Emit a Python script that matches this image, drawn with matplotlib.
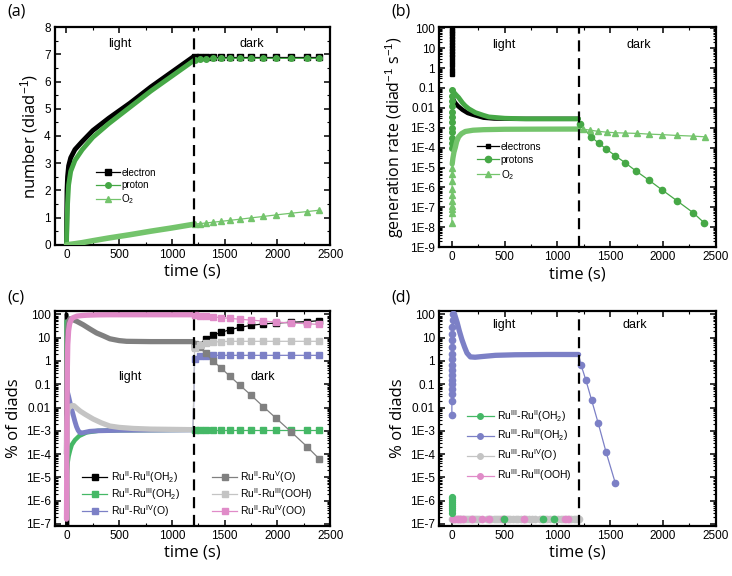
import numpy as np
import matplotlib
matplotlib.use('Agg')
import matplotlib.pyplot as plt
from matplotlib.lines import Line2D
from matplotlib.ticker import MultipleLocator, LogLocator, FixedLocator, FuncFormatter, NullFormatter

plt.rcParams['font.family'] = ['Liberation Sans', 'DejaVu Sans']
plt.rcParams['mathtext.fontset'] = 'custom'
plt.rcParams['mathtext.rm'] = 'Liberation Sans'
plt.rcParams['mathtext.it'] = 'Liberation Sans:italic'
plt.rcParams['mathtext.bf'] = 'Liberation Sans:bold'

# ---------------- data ----------------
t_switch = 1205
t_dark = [1215, 1265, 1320, 1390, 1465, 1550, 1645, 1750, 1865, 1990, 2130, 2280, 2395]

# (a) cumulative numbers
a_t_light = [0, 2, 5, 10, 20, 40, 80, 150, 250, 400, 600, 800, 1000, 1200]
a_el_light = [0, 1.0, 2.0, 2.5, 2.9, 3.2, 3.5, 3.8, 4.2, 4.65, 5.2, 5.8, 6.35, 6.9]
a_pr_light = [0, 0.4, 0.8, 1.5, 2.2, 2.7, 3.1, 3.5, 3.95, 4.45, 5.05, 5.65, 6.2, 6.75]
a_o2_light = [0, 0, 0, 0.005, 0.01, 0.02, 0.04, 0.08, 0.15, 0.25, 0.37, 0.5, 0.62, 0.75]
a_el_dark = [6.9, 6.9, 6.9, 6.9, 6.9, 6.9, 6.9, 6.9, 6.9, 6.9, 6.9, 6.9, 6.9]
a_pr_dark = [6.8, 6.83, 6.84, 6.85, 6.85, 6.85, 6.85, 6.85, 6.85, 6.85, 6.85, 6.85, 6.85]
a_o2_dark = [0.76, 0.78, 0.8, 0.83, 0.86, 0.9, 0.94, 0.99, 1.04, 1.1, 1.16, 1.22, 1.27]

# (b) generation rates
b_el_spike_t = [0, 0.2, 0.4, 0.6, 0.8, 1, 1.3, 1.6, 2, 2.5, 3, 3.5, 4, 4.5, 5]
b_el_spike = [100, 75, 55, 40, 28, 20, 14, 10, 7, 5, 3.5, 2.3, 1.4, 0.8, 0.5]
b_el_t = [5, 15, 30, 60, 100, 150, 200, 300, 400, 600, 1200]
b_el = [0.04, 0.025, 0.018, 0.012, 8e-3, 5.5e-3, 4.5e-3, 3.2e-3, 2.9e-3, 2.8e-3, 2.8e-3]
b_pr_spike_t = [0, 0.3, 0.6, 1, 1.3, 1.6, 2, 2.5, 3, 3.5, 4, 5]
b_pr_spike = [1e-4, 1.8e-4, 3e-4, 6e-4, 1e-3, 2e-3, 3.5e-3, 6e-3, 0.012, 0.022, 0.04, 0.08]
b_pr_t = [5, 20, 40, 64, 100, 127, 160, 222, 300, 350, 500, 700, 1200]
b_pr = [0.08, 0.06, 0.045, 0.033, 0.018, 0.0126, 9e-3, 5.8e-3, 4.2e-3, 3.5e-3, 3e-3, 2.8e-3, 2.8e-3]
b_pr_dark_t = [1215, 1317, 1390, 1460, 1545, 1643, 1745, 1862, 1989, 2128, 2284, 2392]
b_pr_dark = [1.6e-3, 3.5e-4, 1.7e-4, 8.6e-5, 4e-5, 1.7e-5, 6.6e-6, 2.4e-6, 7.6e-7, 2.2e-7, 5.4e-8, 1.6e-8]
b_o2_spike_t = [0, 0.3, 0.6, 1, 1.3, 1.6, 2, 2.3, 2.6, 3]
b_o2_spike = [1.6e-8, 5e-8, 8e-8, 1.2e-7, 2e-7, 4e-7, 8e-7, 2e-6, 5e-6, 1e-5]
b_o2_t = [3, 10, 20, 32, 45, 64, 90, 127, 200, 300, 500, 800, 1200]
b_o2 = [1.5e-5, 3e-5, 6e-5, 1e-4, 2e-4, 3.5e-4, 5e-4, 6.5e-4, 7.5e-4, 8e-4, 8.4e-4, 8.5e-4, 8.6e-4]
b_o2_dark_t = [1237, 1307, 1386, 1466, 1548, 1643, 1751, 1862, 1992, 2131, 2284, 2395]
b_o2_dark = [8.6e-4, 7.6e-4, 6.6e-4, 6e-4, 5.6e-4, 5.4e-4, 5.2e-4, 4.8e-4, 4.5e-4, 4.1e-4, 3.8e-4, 3.5e-4]

# (c) RuII-Ru species (% of diads)
c_k_t = [0, 1, 2, 3, 5, 8]
c_k = [100, 80, 30, 3, 0.01, 1e-8]
c_k_dark = [4.0, 5.1, 8.9, 12.7, 17, 22, 28, 34, 39, 43, 46, 49, 54]
c_g_t = [0, 2, 5, 10, 20, 35, 50, 80, 120, 190, 300, 500, 1200]
c_g = [50, 1e-5, 2e-5, 4e-5, 8e-5, 1.5e-4, 2.5e-4, 4e-4, 6e-4, 8.5e-4, 1e-3, 1.05e-3, 1.1e-3]
c_g_dark = [1.1e-3] * 13
c_b_t = [0, 10, 20, 35, 50, 65, 80, 95, 110, 125, 140, 170, 220, 300, 500, 1200]
c_b = [0.06, 0.045, 0.03, 0.015, 8e-3, 4.5e-3, 2.5e-3, 1.5e-3, 1.05e-3, 8.5e-4, 8e-4,
       8.5e-4, 9.5e-4, 1e-3, 1.05e-3, 1.1e-3]
c_b_dark = [1.2, 1.6, 1.7, 1.75, 1.75, 1.75, 1.75, 1.75, 1.75, 1.75, 1.75, 1.75, 1.75]
c_d_t = [0, 2, 5, 10, 20, 32, 60, 100, 158, 220, 285, 350, 411, 500, 570, 800, 1200]
c_d = [1e-4, 1e-2, 1, 20, 50, 65, 60, 50, 36, 24, 16, 12, 9, 7.5, 7, 6.8, 6.8]
c_d_dark = [5.5, 3.8, 2.1, 1.0, 0.5, 0.22, 0.09, 0.034, 0.011, 3.4e-3, 9e-4, 2.1e-4, 6.3e-5]
c_l_t = [0, 3, 8, 15, 30, 50, 70, 95, 130, 180, 253, 330, 411, 500, 633, 800, 1000, 1200]
c_l = [1e-4, 1e-3, 4e-3, 8e-3, 0.011, 0.012, 0.012, 0.0095, 7e-3, 5e-3, 3.2e-3, 2.2e-3,
       1.6e-3, 1.4e-3, 1.26e-3, 1.18e-3, 1.15e-3, 1.12e-3]
c_l_dark = [3.5, 5.0, 6.0, 6.5, 6.8, 7.0, 7.0, 7.0, 7.0, 7.0, 7.0, 7.0, 7.0]
c_p_t = [0, 1, 2, 3, 4, 6, 8, 12, 20, 30, 45, 60, 100, 150, 200, 300, 400, 1200]
c_p = [1.6e-7, 1e-6, 1e-5, 1e-4, 1e-3, 0.03, 0.5, 5, 20, 40, 60, 72, 85, 90, 93, 96, 97, 97]
c_p_dark = [92, 88, 82, 78, 73, 68, 62, 57, 52, 47, 43, 40, 37]

# (d) RuIII-Ru species (% of diads)
d_floor = 1.6e-7
d_b_spike_t = [0, 0, 0, 0, 0, 0, 0, 0, 1, 1, 1, 2, 2, 3, 4, 6, 10]
d_b_spike = [5e-3, 0.02, 0.037, 0.06, 0.1, 0.15, 0.25, 0.4, 0.7, 1.2, 2, 4, 8, 15, 30, 60, 100]
d_b_t = [10, 20, 32, 50, 70, 95, 120, 143, 175, 220, 285, 413, 600, 900, 1200]
d_b = [100, 95, 82, 45, 20, 8.3, 4, 2.2, 1.5, 1.45, 1.55, 1.75, 1.85, 1.9, 1.9]
d_b_dark_t = [1222, 1269, 1323, 1386, 1459, 1548]
d_b_dark = [0.7, 0.15, 0.021, 2.1e-3, 1.26e-4, 5.6e-6]
d_g_spike_t = [0, 0, 0, 0, 0, 0, 0, 0, 0]
d_g_spike = [1.5e-6, 1.3e-6, 1.1e-6, 9e-7, 7.5e-7, 6e-7, 4.8e-7, 3.8e-7, 3e-7]
d_g_floor_t = [490, 860, 965]
d_l_floor_t = [0, 15, 30, 45, 60, 75, 90, 105, 120, 140, 160, 180, 200, 220, 240, 260, np.nan,
               335, 355, 375, 395, 415, 435, 455, 475, 495, 515, 535, 555, 580, 605, 630, 655,
               680, 705, 730, 755, 790, np.nan, 830, 855, 880, 905, 930, 955, 980, 1005, 1030,
               1055, 1080, 1105, 1130, 1155, 1180, 1205]
d_p_floor_t = [10, 30, 55, 75, 110, 190, 290, 350, 480, 680, 1070, 1100]

# ---------------- styling ----------------
A_GREEN = '#46a846'
A_LIGHT = '#74c46c'
C_GREEN = '#45b866'
C_BLUE = '#7c80c6'
C_GRAY = '#808080'
C_LGRAY = '#c4c4c4'
C_PINK = '#e08bc8'
LABEL_FONT = ['Open Sans', 'DejaVu Sans']

LOG_NAMES = {2: '100', 1: '10', 0: '1', -1: '0.1', -2: '0.01'}


def log_label(v, pos):
    e = int(round(np.log10(v)))
    return LOG_NAMES.get(e, f'1E{e}')


def style(ax, log_lo=None):
    for s in ax.spines.values():
        s.set_linewidth(1.6)
    ax.xaxis.set_major_locator(MultipleLocator(500))
    ax.xaxis.set_minor_locator(MultipleLocator(250))
    if log_lo is not None:
        ax.set_yscale('log')
        ax.yaxis.set_major_locator(FixedLocator([10.0 ** e for e in range(log_lo, 3)]))
        ax.yaxis.set_major_formatter(FuncFormatter(log_label))
        ax.yaxis.set_minor_locator(LogLocator(base=10, subs=np.arange(2, 10), numticks=100))
        ax.yaxis.set_minor_formatter(NullFormatter())
    ax.tick_params(which='both', direction='in', top=True, right=True, labelsize=8.5, pad=3)
    ax.tick_params(which='major', length=4, width=1.1)
    ax.tick_params(which='minor', length=2.2, width=0.8)
    ax.axvline(t_switch, color='black', lw=1.6, ls=(0, (5, 3)), zorder=6)
    ax.set_xlabel('time (s)', fontsize=12, labelpad=2, family=LABEL_FONT)


def dense(ax, t, v, color, lw=3.5, z=2):
    ax.plot(t, v, color=color, lw=lw, solid_capstyle='round', solid_joinstyle='round', zorder=z)


def sparse(ax, t, v, color, marker, label=None, ms=4, z=3, lw=0.9):
    return ax.plot(t, v, color=color, lw=lw, marker=marker, ms=ms, mec=color, mfc=color,
                   label=label, zorder=z)[0]


def bridge(ax, t1, v1, t2, v2, color, z=3):
    ax.plot([t1[-1], t2[0]], [v1[-1], v2[0]], color=color, lw=0.9, zorder=z)


fig = plt.figure(figsize=(7.32, 5.76), dpi=100)
ax_a = fig.add_axes([0.075, 0.575, 0.376, 0.378])
ax_b = fig.add_axes([0.600, 0.571, 0.378, 0.382])
ax_c = fig.add_axes([0.075, 0.087, 0.376, 0.373])
ax_d = fig.add_axes([0.600, 0.087, 0.378, 0.373])

# ---- (a)
ax = ax_a
dense(ax, a_t_light, a_el_light, 'black')
h_el = sparse(ax, t_dark, a_el_dark, 'black', 's', 'electron', ms=3.8)
bridge(ax, a_t_light, a_el_light, t_dark, a_el_dark, 'black')
dense(ax, a_t_light, a_pr_light, A_GREEN, z=3)
h_pr = sparse(ax, t_dark, a_pr_dark, A_GREEN, 'o', 'proton', ms=4, z=4)
bridge(ax, a_t_light, a_pr_light, t_dark, a_pr_dark, A_GREEN)
dense(ax, a_t_light, a_o2_light, A_LIGHT, lw=4, z=3)
h_o2 = sparse(ax, t_dark, a_o2_dark, A_LIGHT, '^', r'O$_2$', ms=4.2, z=4)
bridge(ax, a_t_light, a_o2_light, t_dark, a_o2_dark, A_LIGHT)
style(ax)
ax.set_xlim(-110, 2500)
ax.set_ylim(0, 8)
ax.yaxis.set_major_locator(MultipleLocator(1))
ax.yaxis.set_minor_locator(MultipleLocator(0.5))
ax.set_ylabel(r'number (diad$^{-1}$)', fontsize=12, labelpad=3, family=LABEL_FONT)
ax.text(506, 7.38, 'light', ha='center', va='center', fontsize=9)
ax.text(1760, 7.38, 'dark', ha='center', va='center', fontsize=9)
ax.legend(handles=[h_el, h_pr, h_o2], loc='upper left', bbox_to_anchor=(0.15, 0.355),
          frameon=False, fontsize=7, borderpad=0, borderaxespad=0, handlelength=2.4,
          handletextpad=0.2, labelspacing=0.25)

# ---- (b)
ax = ax_b
h_el = sparse(ax, b_el_spike_t, b_el_spike, 'black', 's', 'electrons', ms=3.5, z=2)
dense(ax, b_el_t, b_el, 'black', lw=3.2, z=2)
sparse(ax, b_pr_spike_t, b_pr_spike, A_GREEN, 'o', ms=4, z=3)
dense(ax, b_pr_t, b_pr, A_GREEN, lw=3.5, z=3)
h_pr = sparse(ax, b_pr_dark_t, b_pr_dark, A_GREEN, 'o', 'protons', ms=4.5, z=4)
bridge(ax, b_pr_t, b_pr, b_pr_dark_t, b_pr_dark, A_GREEN)
sparse(ax, b_o2_spike_t, b_o2_spike, A_LIGHT, '^', ms=4.5, z=3)
dense(ax, b_o2_t, b_o2, A_LIGHT, lw=3.8, z=3)
h_o2 = sparse(ax, b_o2_dark_t, b_o2_dark, A_LIGHT, '^', r'O$_2$', ms=4.5, z=4)
bridge(ax, b_o2_t, b_o2, b_o2_dark_t, b_o2_dark, A_LIGHT)
style(ax, log_lo=-9)
ax.set_xlim(-120, 2500)
ax.set_ylim(1e-9, 115)
ax.set_ylabel(r'generation rate (diad$^{-1}$ s$^{-1}$)', fontsize=11.5, labelpad=3,
              family=LABEL_FONT)
ax.text(495, 15, 'light', ha='center', va='center', fontsize=9)
ax.text(1770, 15, 'dark', ha='center', va='center', fontsize=9)
ax.legend(handles=[h_el, h_pr, h_o2], loc='upper left', bbox_to_anchor=(0.135, 0.478),
          frameon=False, fontsize=7.2, borderpad=0, borderaxespad=0, handlelength=2.2,
          handletextpad=0.2, labelspacing=0.3)

# ---- (c)
ax = ax_c
dense(ax, c_k_t, c_k, 'black', lw=3, z=2)
h1 = sparse(ax, t_dark, c_k_dark, 'black', 's', r'Ru$^{\mathrm{II}}$-Ru$^{\mathrm{II}}$(OH$_2$)', ms=3.8)
dense(ax, c_g_t, c_g, C_GREEN, lw=3.2, z=2)
h2 = sparse(ax, t_dark, c_g_dark, C_GREEN, 's', r'Ru$^{\mathrm{II}}$-Ru$^{\mathrm{III}}$(OH$_2$)', ms=3.8)
bridge(ax, c_g_t, c_g, t_dark, c_g_dark, C_GREEN)
dense(ax, c_b_t, c_b, C_BLUE, lw=3.5, z=2)
h3 = sparse(ax, t_dark, c_b_dark, C_BLUE, 's', r'Ru$^{\mathrm{II}}$-Ru$^{\mathrm{IV}}$(O)', ms=3.8)
bridge(ax, c_b_t, c_b, t_dark, c_b_dark, C_BLUE)
dense(ax, c_d_t, c_d, C_GRAY, lw=3.8, z=2)
h4 = sparse(ax, t_dark, c_d_dark, C_GRAY, 's', r'Ru$^{\mathrm{II}}$-Ru$^{\mathrm{V}}$(O)', ms=3.8)
bridge(ax, c_d_t, c_d, t_dark, c_d_dark, C_GRAY)
dense(ax, c_l_t, c_l, C_LGRAY, lw=3.8, z=2)
h5 = sparse(ax, t_dark, c_l_dark, C_LGRAY, 's', r'Ru$^{\mathrm{II}}$-Ru$^{\mathrm{III}}$(OOH)', ms=3.8)
bridge(ax, c_l_t, c_l, t_dark, c_l_dark, C_LGRAY)
dense(ax, c_p_t, c_p, C_PINK, lw=3.8, z=2.5)
h6 = sparse(ax, t_dark, c_p_dark, C_PINK, 's', r'Ru$^{\mathrm{II}}$-Ru$^{\mathrm{IV}}$(OO)', ms=3.8)
bridge(ax, c_p_t, c_p, t_dark, c_p_dark, C_PINK)
style(ax, log_lo=-7)
ax.set_xlim(-110, 2500)
ax.set_ylim(8.2e-8, 140)
ax.set_ylabel('% of diads', fontsize=12, labelpad=3, family=LABEL_FONT)
ax.text(601, 0.21, 'light', ha='center', va='center', fontsize=9)
ax.text(1858, 0.21, 'dark', ha='center', va='center', fontsize=9)
leg_kw = dict(loc='upper left', frameon=False, fontsize=7.5, borderpad=0, borderaxespad=0,
              handlelength=2.4, handletextpad=0.3, labelspacing=0.12)
leg1 = ax.legend(handles=[h1, h2, h3], bbox_to_anchor=(0.1, 0.265), **leg_kw)
ax.add_artist(leg1)
ax.legend(handles=[h4, h5, h6], bbox_to_anchor=(0.572, 0.265), **leg_kw)

# ---- (d)
ax = ax_d
floor_l = [d_floor if not np.isnan(t) else np.nan for t in d_l_floor_t]
ax.plot(d_l_floor_t, floor_l, color=C_LGRAY, lw=2, marker='o', ms=4.5, mec=C_LGRAY,
        mfc=C_LGRAY, zorder=2, clip_on=False)
ax.plot(d_p_floor_t, [d_floor] * len(d_p_floor_t), ls='none', marker='o', ms=4.5,
        mec=C_PINK, mfc=C_PINK, zorder=3, clip_on=False)
ax.plot(d_g_floor_t, [d_floor] * len(d_g_floor_t), ls='none', marker='o', ms=4.5,
        mec=C_GREEN, mfc=C_GREEN, zorder=3, clip_on=False)
ax.plot(d_g_spike_t, d_g_spike, ls='none', marker='o', ms=4.2, mec=C_GREEN, mfc=C_GREEN, zorder=3)
sparse(ax, d_b_spike_t, d_b_spike, C_BLUE, 'o', ms=4.5, z=3)
dense(ax, d_b_t, d_b, C_BLUE, lw=3.8, z=3)
sparse(ax, d_b_dark_t, d_b_dark, C_BLUE, 'o', ms=4.5, z=4)
bridge(ax, d_b_t, d_b, d_b_dark_t, d_b_dark, C_BLUE)
style(ax, log_lo=-7)
ax.set_xlim(-120, 2500)
ax.set_ylim(8.2e-8, 140)
ax.set_ylabel('% of diads', fontsize=12, labelpad=3, family=LABEL_FONT)
ax.text(495, 35, 'light', ha='center', va='center', fontsize=9)
ax.text(1732, 35, 'dark', ha='center', va='center', fontsize=9)
d_labels = [r'Ru$^{\mathrm{III}}$-Ru$^{\mathrm{II}}$(OH$_2$)',
            r'Ru$^{\mathrm{III}}$-Ru$^{\mathrm{III}}$(OH$_2$)',
            r'Ru$^{\mathrm{III}}$-Ru$^{\mathrm{IV}}$(O)',
            r'Ru$^{\mathrm{III}}$-Ru$^{\mathrm{III}}$(OOH)']
d_handles = [Line2D([], [], color=c, lw=0.9, marker='o', ms=4, mec=c, mfc=c, label=l)
             for c, l in zip([C_GREEN, C_BLUE, C_LGRAY, C_PINK], d_labels)]
ax.legend(handles=d_handles, loc='upper left', bbox_to_anchor=(0.1, 0.55),
          frameon=False, fontsize=7.5, borderpad=0, borderaxespad=0, handlelength=2.6,
          handletextpad=0.3, labelspacing=0.4)

for lbl, x, y in [('(a)', 7, 11), ('(b)', 391, 11), ('(c)', 7, 297), ('(d)', 391, 297)]:
    fig.text(x / 732, 1 - y / 576, lbl, ha='left', va='center', fontsize=11.5,
             family=LABEL_FONT)

fig.savefig('out.png', dpi=100)
